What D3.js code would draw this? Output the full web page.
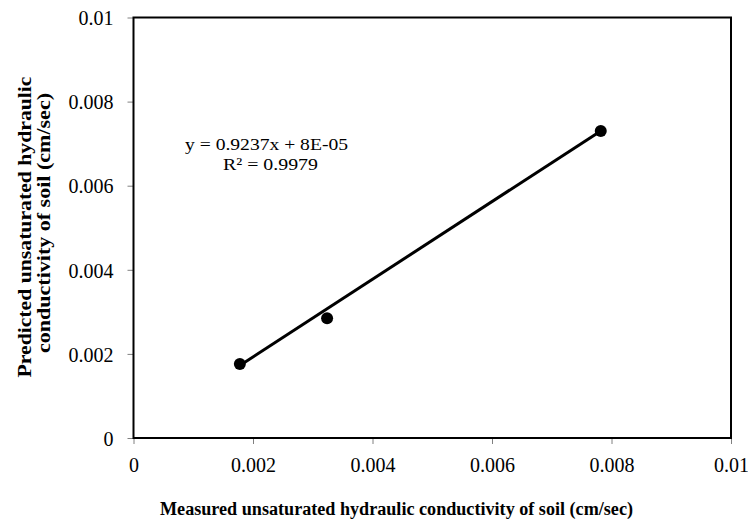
<!DOCTYPE html>
<style>
    body { margin: 0; background: #fff; }
    text { font-family: "Liberation Serif", "Times New Roman", serif; fill: #000; }
    .tick text { font-size: 20px; }
    .tick line { stroke: #808080; }
    .domain { display: none; }
    .title { font-weight: bold; }
</style>
<body>
<script src="https://d3js.org/d3.v7.min.js"></script>
<script>
// measured vs predicted (cm/sec)
var measured = [0.00178, 0.00324, 0.00782];
var predicted = [0.00176, 0.00285, 0.00730];
var xTicks = [0, 0.002, 0.004, 0.006, 0.008, 0.01];
var yTicks = [0, 0.002, 0.004, 0.006, 0.008, 0.01];
var slope = 0.9237, intercept = 0.00008, r2 = 0.9979;

var margin = {top: 17.5, right: 17, bottom: 85, left: 133.5};
var width = 748 - margin.left - margin.right;
var height = 523 - margin.top - margin.bottom;

var svg = d3.select("body").append("svg")
    .attr("width", 748)
    .attr("height", 523);

var g = svg.append("g")
    .attr("transform", "translate(" + margin.left + "," + margin.top + ")");

var x = d3.scaleLinear().domain([0, 0.01]).range([0, width]);
var y = d3.scaleLinear().domain([0, 0.01]).range([height, 0]);

var fmt = function(d) { return d === 0 ? "0" : d3.format("~g")(d); };

// axes
g.append("g")
    .attr("transform", "translate(0," + height + ")")
    .call(d3.axisBottom(x).tickValues(xTicks).tickSize(6).tickPadding(14).tickFormat(fmt));

var yAxis = g.append("g")
    .call(d3.axisLeft(y).tickValues(yTicks).tickSize(6).tickPadding(14).tickFormat(fmt));
yAxis.selectAll(".tick text").attr("dy", "0.36em");

// plot frame
g.append("rect")
    .attr("width", width)
    .attr("height", height)
    .attr("fill", "none")
    .attr("stroke", "#000")
    .attr("stroke-width", 2);

// trendline over the data range
var xMin = d3.min(measured), xMax = d3.max(measured);
g.append("line")
    .attr("x1", x(xMin)).attr("y1", y(slope * xMin + intercept))
    .attr("x2", x(xMax)).attr("y2", y(slope * xMax + intercept))
    .attr("stroke", "#000")
    .attr("stroke-width", 3);

// points
g.selectAll("circle")
    .data(measured)
    .enter().append("circle")
    .attr("cx", function(d) { return x(d); })
    .attr("cy", function(d, i) { return y(predicted[i]); })
    .attr("r", 6)
    .attr("fill", "#000");

// equation
svg.append("text")
    .attr("x", 266.5).attr("y", 150)
    .attr("text-anchor", "middle")
    .attr("textLength", 163).attr("lengthAdjust", "spacingAndGlyphs")
    .style("font-size", "17px")
    .text("y = 0.9237x + 8E-05");
svg.append("text")
    .attr("x", 270.5).attr("y", 170)
    .attr("text-anchor", "middle")
    .attr("textLength", 95).attr("lengthAdjust", "spacingAndGlyphs")
    .style("font-size", "17px")
    .text("R\u00b2 = " + r2);

// axis titles
svg.append("text")
    .attr("class", "title")
    .attr("x", 396.5).attr("y", 515)
    .attr("text-anchor", "middle")
    .attr("textLength", 473).attr("lengthAdjust", "spacingAndGlyphs")
    .style("font-size", "18px")
    .text("Measured unsaturated hydraulic conductivity of soil (cm/sec)");

var yt = svg.append("g")
    .attr("transform", "translate(0,227) rotate(-90)");
yt.append("text")
    .attr("class", "title")
    .attr("x", 0).attr("y", 31)
    .attr("text-anchor", "middle")
    .attr("textLength", 301).attr("lengthAdjust", "spacingAndGlyphs")
    .style("font-size", "19px")
    .text("Predicted unsaturated hydraulic");
yt.append("text")
    .attr("class", "title")
    .attr("x", 4).attr("y", 50)
    .attr("text-anchor", "middle")
    .attr("textLength", 260).attr("lengthAdjust", "spacingAndGlyphs")
    .style("font-size", "19px")
    .text("conductivity of soil (cm/sec)");
</script>
